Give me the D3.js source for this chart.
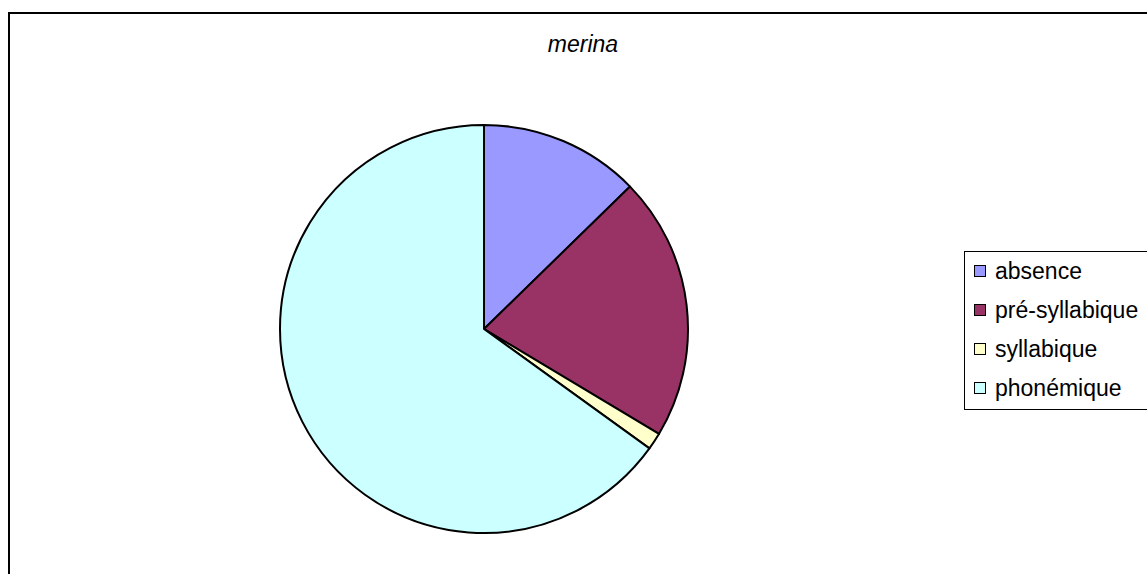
<!DOCTYPE html>
<html><head><meta charset="utf-8">
<script src="https://cdn.jsdelivr.net/npm/d3@7"></script>
<style>body{margin:0;background:#fff}svg{display:block}text{font-family:"Liberation Sans",Arial,sans-serif}</style>
</head><body>
<svg id="c" width="1147" height="574"></svg>
<script>
const title = "merina";
const categories = ["absence", "pré-syllabique", "syllabique", "phonémique"];
const values = [12.7, 20.9, 1.35, 65.05];
const colors = ["#9999FF", "#993366", "#FFFFCC", "#CCFFFF"];

const svg = d3.select("#c");
svg.append("rect").attr("x", 0).attr("y", 0).attr("width", 1147).attr("height", 574).attr("fill", "#fff");
// outer frame
svg.append("path").attr("d", "M9,580 V13 H1160").attr("fill", "none").attr("stroke", "#000").attr("stroke-width", 2);

svg.append("text").attr("x", 583).attr("y", 52).attr("text-anchor", "middle")
  .attr("font-size", 23).attr("font-style", "italic").text(title);

const cx = 484, cy = 329, r = 204;
const data = categories.map((c, i) => ({name: c, value: values[i], color: colors[i]}));
const pie = d3.pie().sort(null).value(d => d.value);
const arc = d3.arc().innerRadius(0).outerRadius(r);
const g = svg.append("g").attr("transform", `translate(${cx},${cy})`);
g.selectAll("path").data(pie(data)).join("path")
  .attr("d", arc).attr("fill", d => d.data.color)
  .attr("stroke", "#000").attr("stroke-width", 2).attr("stroke-linejoin", "round");

// legend
const lg = svg.append("g");
lg.append("rect").attr("x", 964.5).attr("y", 251.5).attr("width", 200).attr("height", 158)
  .attr("fill", "#fff").attr("stroke", "#000").attr("stroke-width", 1);
const rowY = d3.scalePoint().domain(categories).range([271, 388]);
const items = lg.selectAll("g.item").data(data).join("g").attr("class", "item")
  .attr("transform", d => `translate(0,${rowY(d.name)})`);
items.append("rect").attr("x", 974.5).attr("y", -5.5).attr("width", 11).attr("height", 11)
  .attr("fill", d => d.color).attr("stroke", "#000").attr("stroke-width", 1);
items.append("text").attr("x", 995).attr("y", 8).attr("font-size", 23).text(d => d.name);
</script>
</body></html>
